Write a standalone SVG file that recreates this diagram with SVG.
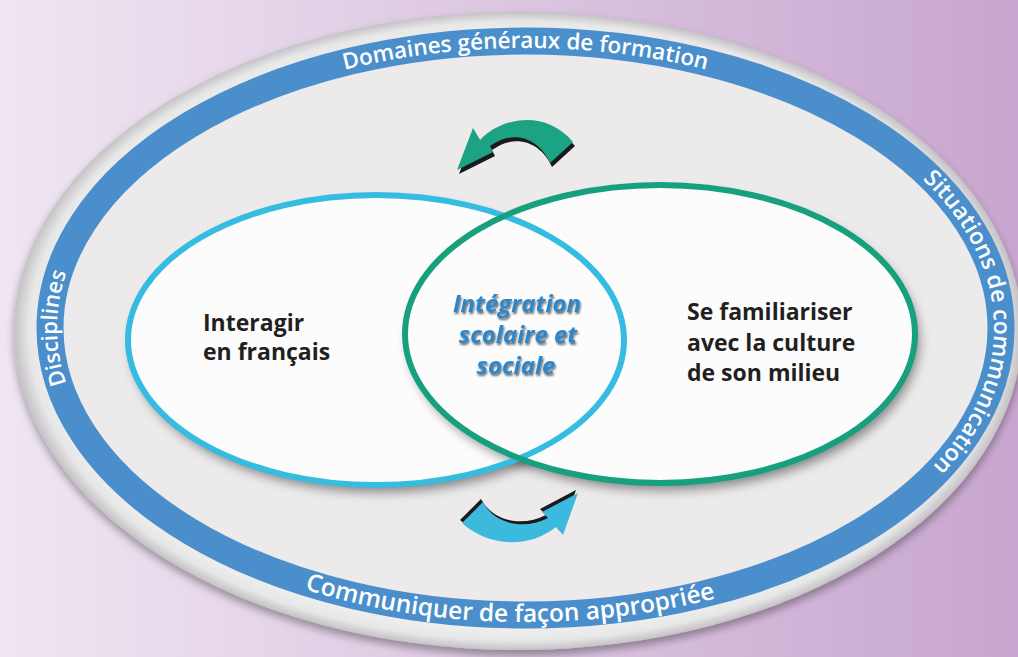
<svg xmlns="http://www.w3.org/2000/svg" width="1018" height="657" viewBox="0 0 1018 657">
<defs>
<linearGradient id="bg" x1="0" y1="0" x2="1" y2="0">
<stop offset="0" stop-color="#EFE6F2"/>
<stop offset="1" stop-color="#C8A6CF"/>
</linearGradient>
<radialGradient id="rim" cx="0.5" cy="0.5" r="0.5">
<stop offset="0.9" stop-color="#F5F5F5"/>
<stop offset="0.97" stop-color="#E8E7E8"/>
<stop offset="1" stop-color="#C4C2C4"/>
</radialGradient>
<filter id="sh" x="-10%" y="-10%" width="120%" height="130%">
<feGaussianBlur in="SourceAlpha" stdDeviation="6"/>
<feOffset dx="4" dy="7" result="b"/>
<feComponentTransfer><feFuncA type="linear" slope="0.45"/></feComponentTransfer>
<feMerge><feMergeNode/><feMergeNode in="SourceGraphic"/></feMerge>
</filter>
<filter id="osh" x="-5%" y="-5%" width="110%" height="115%">
<feGaussianBlur in="SourceAlpha" stdDeviation="4"/>
<feOffset dx="0" dy="5"/>
<feComponentTransfer><feFuncA type="linear" slope="0.35"/></feComponentTransfer>
<feMerge><feMergeNode/><feMergeNode in="SourceGraphic"/></feMerge>
</filter>
<filter id="tsh" x="-10%" y="-10%" width="120%" height="130%">
<feGaussianBlur in="SourceAlpha" stdDeviation="0.8"/>
<feOffset dx="1.2" dy="1.5"/>
<feComponentTransfer><feFuncA type="linear" slope="0.6"/></feComponentTransfer>
<feMerge><feMergeNode/><feMergeNode in="SourceGraphic"/></feMerge>
</filter>
<path id="cw" d="M 525.5,608 A 468.5 280 0 0 1 57,328 A 468.5 280 0 0 1 525.5,48 A 468.5 280 0 0 1 994,328 A 468.5 280 0 0 1 525.5,608"/>
<path id="ccw" d="M 43,328 A 482.5 294 0 0 0 1008,328"/>
</defs>
<style>
.band{font-family:"Open Sans","Liberation Sans",sans-serif;font-size:22.5px;font-weight:600;fill:#FFFFFF;}
.lbl{font-family:"Open Sans","Liberation Sans",sans-serif;font-size:23px;font-weight:bold;fill:#231F20;}
.mid{font-family:"Open Sans","Liberation Sans",sans-serif;font-size:24px;font-weight:bold;font-style:italic;fill:#2E86C8;text-anchor:middle;}
</style>
<rect width="1018" height="657" fill="url(#bg)"/>
<g id="outer">
<ellipse cx="518" cy="331" rx="504" ry="319" fill="url(#rim)" filter="url(#osh)"/>
<ellipse cx="525.5" cy="328" rx="475.5" ry="287" fill="#ECEAEB" stroke="#4A8FCC" stroke-width="27"/>
<text class="band" style="font-size:22px"><textPath href="#cw" startOffset="25%" text-anchor="middle">Disciplines</textPath></text>
<text class="band"><textPath href="#cw" startOffset="50%" text-anchor="middle">Domaines généraux de formation</textPath></text>
<text class="band" style="font-size:23px"><textPath href="#cw" startOffset="74.7%" text-anchor="middle">Situations de communication</textPath></text>
<text class="band" style="font-size:24.5px"><textPath href="#ccw" startOffset="48.7%" text-anchor="middle">Communiquer de façon appropriée</textPath></text>
</g>
<g id="fills">
<ellipse cx="376" cy="340" rx="248" ry="145" fill="#FCFCFD" filter="url(#sh)"/>
<ellipse cx="660" cy="334" rx="255" ry="149" fill="#FCFCFD" filter="url(#sh)"/>
</g>
<g id="interagir">
<ellipse cx="376" cy="340" rx="248" ry="145" fill="none" stroke="#36BCE0" stroke-width="6"/>
<text class="lbl" x="203" y="331">Interagir</text>
<text class="lbl" x="203" y="360">en français</text>
</g>
<g id="familiariser">
<ellipse cx="660" cy="334" rx="255" ry="149" fill="none" stroke="#17A07E" stroke-width="6"/>
<text class="lbl" x="687" y="320">Se familiariser</text>
<text class="lbl" x="687" y="350.5">avec la culture</text>
<text class="lbl" x="687" y="381">de son milieu</text>
</g>
<g id="integration" filter="url(#tsh)">
<text class="mid" x="517" y="312">Intégration</text>
<text class="mid" x="518" y="343">scolaire et</text>
<text class="mid" x="516" y="374">sociale</text>
</g>
<g id="connectors">
<path d="M 457,170 L 473,128 L 480,140 C 500,118 545,108 573,142 L 550,163 C 540,140 515,128 490,146 L 493,152 Z" fill="#1A1A1A" transform="translate(2,4)"/>
<path d="M 457,170 L 473,128 L 480,140 C 500,118 545,108 573,142 L 550,163 C 540,140 515,128 490,146 L 493,152 Z" fill="#1BA383"/>
<path d="M 462,523 L 483,502 C 495,525 525,530 548,518 L 542,512 L 578,493 L 563,535 L 556,527 C 530,548 490,548 462,523 Z" fill="#1A1A1A" transform="translate(-2,-3)"/>
<path d="M 462,523 L 483,502 C 495,525 525,530 548,518 L 542,512 L 578,493 L 563,535 L 556,527 C 530,548 490,548 462,523 Z" fill="#3DB9DE"/>
</g>
</svg>
